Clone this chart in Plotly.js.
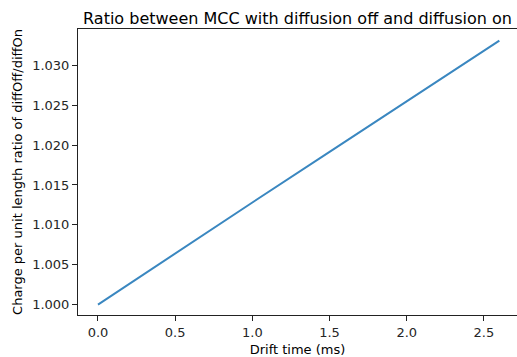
<!DOCTYPE html>
<html>
<head>
<meta charset="utf-8">
<script src="https://cdn.plot.ly/plotly-3.0.1.min.js"></script>
<style>html,body{margin:0;padding:0;background:#fff;}#chart{width:517px;height:357px;}</style>
</head>
<body>
<div id="chart"></div>
<script>
const driftTime = [0.0, 0.5, 1.0, 1.5, 2.0, 2.6];
const ratio = [1.0000, 1.00645, 1.0128, 1.01915, 1.0255, 1.0331];
const xTickVals = [0.0, 0.5, 1.0, 1.5, 2.0, 2.5];
const xTickText = ["0.0", "0.5", "1.0", "1.5", "2.0", "2.5"];
const yTickVals = [1.000, 1.005, 1.010, 1.015, 1.020, 1.025, 1.030];
const yTickText = ["1.000", "1.005", "1.010", "1.015", "1.020", "1.025", "1.030"];

const font = {family: "DejaVu Sans", size: 13, color: "#262626"};
Plotly.newPlot("chart", [{
  x: driftTime, y: ratio, type: "scatter", mode: "lines",
  line: {color: "#3a87c0", width: 2}
}], {
  width: 517, height: 357,
  margin: {l: 78, r: 0, t: 28.5, b: 41.5},
  paper_bgcolor: "#fff", plot_bgcolor: "#fff",
  showlegend: false,
  font: font,
  title: {text: "Ratio between MCC with diffusion off and diffusion on", font: {family: "DejaVu Sans", size: 16, color: "#000"}, x: 0.5, xref: "paper", y: 1, yref: "paper", yanchor: "bottom", pad: {b: 5}},
  xaxis: {
    range: [-0.1295, 2.7143], tickvals: xTickVals, ticktext: xTickText,
    showgrid: false, zeroline: false, showline: true, linecolor: "#222", linewidth: 1, mirror: true,
    ticks: "outside", ticklen: 5, tickcolor: "#222", tickwidth: 1,
    tickfont: {family: "DejaVu Sans", size: 13, color: "#262626"},
    title: {text: "Drift time (ms)", font: {family: "DejaVu Sans", size: 13, color: "#000"}, standoff: 6},
    automargin: false
  },
  yaxis: {
    range: [0.99869, 1.03456], tickvals: yTickVals, ticktext: yTickText,
    showgrid: false, zeroline: false, showline: true, linecolor: "#222", linewidth: 1, mirror: false,
    ticks: "outside", ticklen: 5, tickcolor: "#222", tickwidth: 1,
    tickfont: {family: "DejaVu Sans", size: 13, color: "#262626"},
    title: {text: "Charge per unit length ratio of diffOff/diffOn", font: {family: "DejaVu Sans", size: 13, color: "#000"}, standoff: 6},
    automargin: false
  }
}, {staticPlot: true, displayModeBar: false});
</script>
</body>
</html>
